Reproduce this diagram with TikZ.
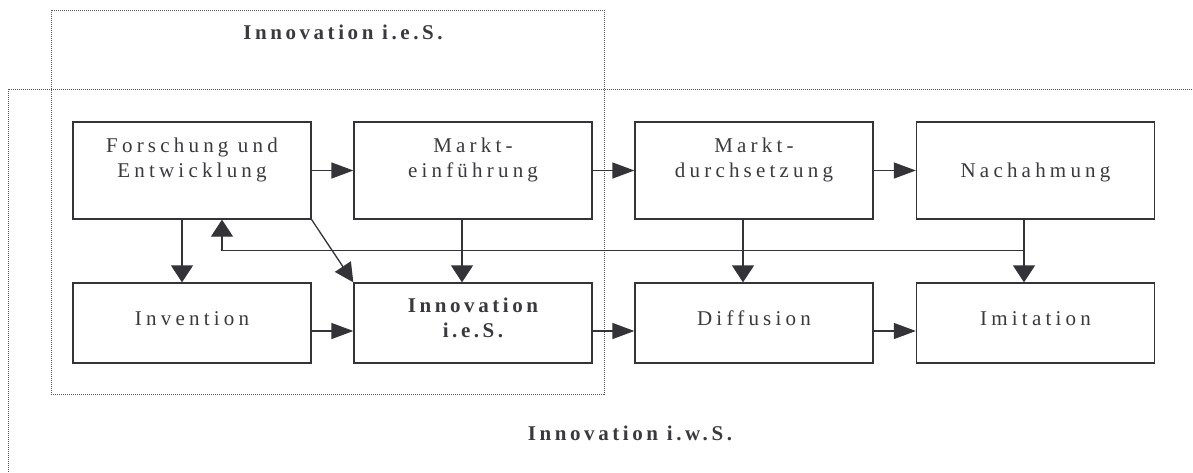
\documentclass[tikz,border=0pt]{standalone}
\usepackage{fontspec}
\setmainfont{Liberation Serif}
\newfontfamily\spacedserif[LetterSpace=20]{Liberation Serif}
\newfontfamily\spacedbold[LetterSpace=17]{Liberation Serif}
\usetikzlibrary{arrows.meta}
\definecolor{ink}{HTML}{333338}
\definecolor{textgray}{HTML}{3A3A3E}
\definecolor{dotgray}{HTML}{555555}
\tikzset{
  stagebox/.style={draw=ink, line width=1.3pt, fill=white, minimum width=238pt, inner sep=0pt},
  toprow/.style={stagebox, minimum height=97pt},
  botrow/.style={stagebox, minimum height=80pt},
  lbl/.style={text=textgray, anchor=base, align=center, inner sep=0pt,
    font=\spacedserif\fontsize{21}{25}\selectfont},
  boldlbl/.style={lbl, font=\spacedbold\bfseries\fontsize{21}{25}\selectfont},
  harr/.style={draw=ink, line width=1.3pt, -{Triangle[length=22pt, width=16pt]}},
  varr/.style={draw=ink, line width=1.3pt, -{Triangle[length=17pt, width=22pt]}},
  darr/.style={draw=ink, line width=1.3pt, -{Triangle[length=19pt, width=19pt]}},
  frame/.style={draw=dotgray, line width=1pt, dash pattern=on 1pt off 1pt}
}
\begin{document}
\begin{tikzpicture}[x=1pt, y=-1pt]
\useasboundingbox (0,0) rectangle (1193,472);

% dotted frames: narrow and wide sense of innovation
\draw[frame] (51,10) rectangle (604,394);
\draw[frame] (1200,89) -- (8,89) -- (8,480);

% process stages (top row) and outcomes (bottom row)
\node[toprow] (fe) at (192,170.5) {};
\node[toprow] (me) at (473,170.5) {};
\node[toprow] (md) at (754,170.5) {};
\node[toprow] (na) at (1035.5,170.5) {};
\node[botrow] (inv) at (192,323) {};
\node[botrow] (ies) at (473,323) {};
\node[botrow] (dif) at (754,323) {};
\node[botrow] (imi) at (1035.5,323) {};

% labels (anchored at the baseline of their last line)
\node[lbl] (tfe) at (192,177) {Forschung und\\Entwicklung};
\node[lbl] (tme) at (473,177) {Markt-\\einführung};
\node[lbl] (tmd) at (754,177) {Markt-\\durchsetzung};
\node[lbl] (tna) at (1035.5,177) {Nachahmung};
\node[lbl] (tinv) at (192,325) {Invention};
\node[boldlbl] (ties) at (473,337) {Innovation\\i.e.S.};
\node[lbl] (tdif) at (754,325) {Diffusion};
\node[lbl] (timi) at (1035.5,325) {Imitation};

\node[boldlbl] (ttop) at (343,39) {Innovation i.e.S.};
\node[boldlbl] (tbot) at (630,440) {Innovation i.w.S.};

% connectors along the top row
\draw[harr] (fe) -- (me);
\draw[harr] (me) -- (md);
\draw[harr] (md) -- (na);

% connectors along the bottom row
\draw[harr] ([yshift=-8pt]inv.east) -- ([yshift=-8pt]ies.west);
\draw[harr] ([yshift=-8pt]ies.east) -- ([yshift=-8pt]dif.west);
\draw[harr] ([yshift=-8pt]dif.east) -- ([yshift=-8pt]imi.west);

% stage to outcome
\draw[varr] ([xshift=-10pt]fe.south) -- ([xshift=-10pt]inv.north);
\draw[varr] ([xshift=-11pt]me.south) -- ([xshift=-11pt]ies.north);
\draw[varr] ([xshift=-11pt]md.south) -- ([xshift=-11pt]dif.north);
\draw[varr] ([xshift=-11.5pt]na.south) -- ([xshift=-11.5pt]imi.north);
\draw[darr] (fe.south east) -- (ies.north west);

% feedback from imitation back to research
\draw[varr] ([xshift=-11.5pt]na.south) -- ++(0,31) -| ([xshift=30pt]fe.south);
\end{tikzpicture}
\end{document}
